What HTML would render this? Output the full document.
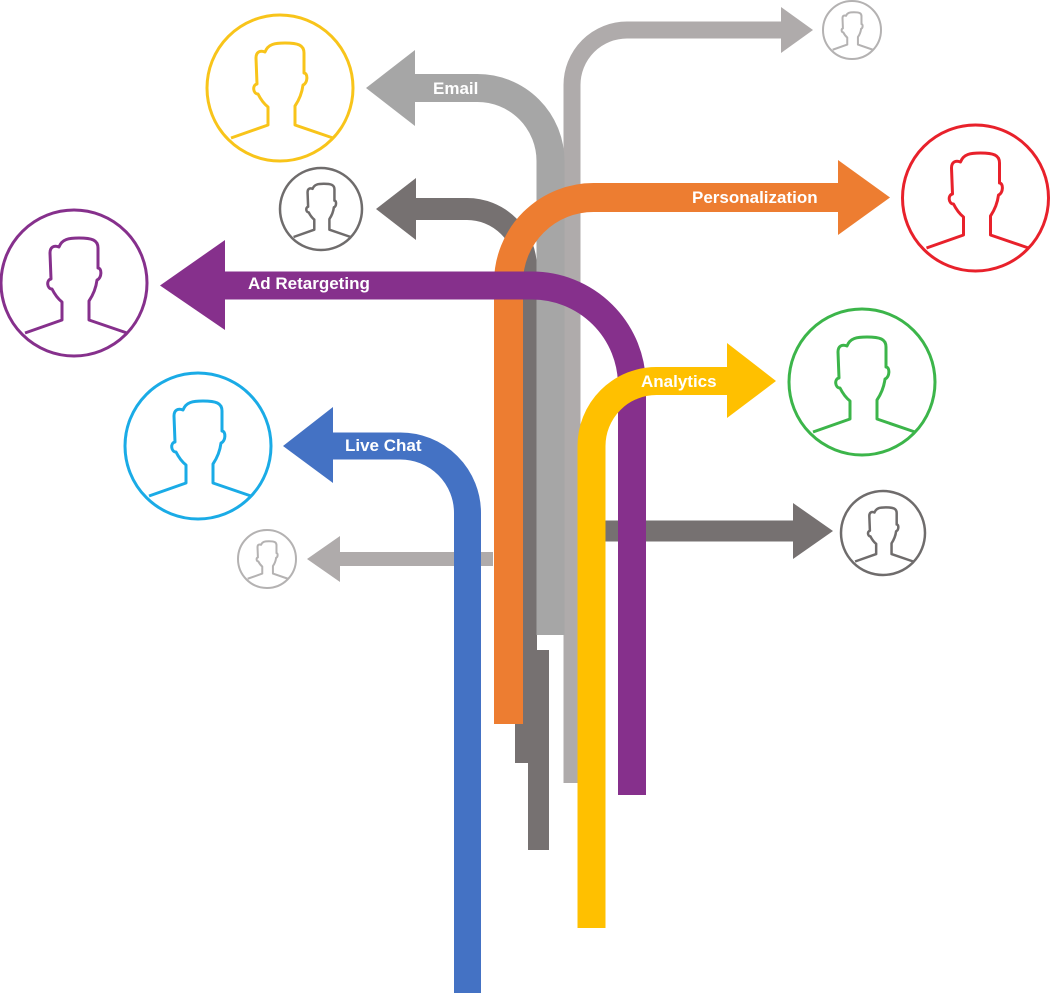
<!DOCTYPE html>
<html><head><meta charset="utf-8"><style>
html,body{margin:0;padding:0;background:#fff;}
svg{display:block;}
text{font-family:"Liberation Sans",Arial,sans-serif;font-weight:bold;fill:#fff;font-size:17px;}
</style></head><body>
<svg width="1052" height="993" viewBox="0 0 1052 993" xmlns="http://www.w3.org/2000/svg">
<defs>
<path id="p" d="M-49,50 L-12,37 L-12,19 C-17,15 -20,10 -22,6 C-27,6 -28,-3 -23,-4 L-24,-30 C-24,-36 -20,-38 -15,-36 C-12,-44 -5,-45 5,-45 C18,-45 24,-43 24,-35 L24,-15 C28,-15 28,-5 23,-3 C22,5 19,12 15,18 L15,37 L53,50" fill="none" vector-effect="non-scaling-stroke" stroke-linejoin="round"/>
</defs>
<g fill="none" stroke-linecap="butt">
<path d="M493,559 L338,559" stroke="#afabab" stroke-width="14"/>
<rect x="515" y="650" width="34" height="113" fill="#767171" stroke="none"/>
<rect x="528" y="650" width="21" height="200" fill="#767171" stroke="none"/>
<path d="M572,783 L572,85 A55,55 0 0 1 627,30 L785,30" stroke="#afabab" stroke-width="17"/>
<path d="M526,763 L526,268 A59,59 0 0 0 467,209 L414,209" stroke="#767171" stroke-width="22"/>
<path d="M550.5,635 L550.5,161 A73,73 0 0 0 477.5,88 L413,88" stroke="#a6a6a6" stroke-width="28"/>
<path d="M600,531 L795,531" stroke="#767171" stroke-width="21"/>
<path d="M508.5,724 L508.5,282 A85,85 0 0 1 593.5,197.5 L840,197.5" stroke="#ed7d31" stroke-width="29"/>
<path d="M632,795 L632,385 A100,100 0 0 0 532,285.5 L223,285.5" stroke="#86308c" stroke-width="28"/>
<path d="M591.5,928 L591.5,446 A65,65 0 0 1 656.5,381 L729,381" stroke="#ffc000" stroke-width="28"/>
<path d="M467.5,993 L467.5,513 A67,67 0 0 0 400.5,446 L331,446" stroke="#4472c4" stroke-width="27"/>
</g>
<g stroke="none">
<polygon points="340,536 307,559 340,582" fill="#afabab"/>
<polygon points="781,7 813,30 781,53" fill="#afabab"/>
<polygon points="416,178 376,209 416,240" fill="#767171"/>
<polygon points="415,50 366,88 415,126" fill="#a6a6a6"/>
<polygon points="793,503 833,531 793,559" fill="#767171"/>
<polygon points="838,160 890,197.5 838,235" fill="#ed7d31"/>
<polygon points="225,240 160,285.5 225,330" fill="#86308c"/>
<polygon points="727,343 776,381 727,418" fill="#ffc000"/>
<polygon points="333,407 283,446 333,483" fill="#4472c4"/>
</g>
<text x="433" y="94">Email</text>
<text x="692" y="203">Personalization</text>
<text x="248" y="289">Ad Retargeting</text>
<text x="641" y="387">Analytics</text>
<text x="345" y="451">Live Chat</text>
<g fill="none">
<circle cx="280" cy="88" r="73" stroke="#f8c41a" stroke-width="3"/>
<use href="#p" transform="translate(280,88)" stroke="#f8c41a" stroke-width="3"/>
<circle cx="852" cy="30" r="29" stroke="#b4b2b2" stroke-width="2"/>
<use href="#p" transform="translate(852,30) scale(0.395)" stroke="#b4b2b2" stroke-width="2"/>
<circle cx="975.5" cy="198" r="73" stroke="#e8212b" stroke-width="3"/>
<use href="#p" transform="translate(975.5,198)" stroke="#e8212b" stroke-width="3"/>
<circle cx="321" cy="209" r="41" stroke="#6f6c6c" stroke-width="2.5"/>
<use href="#p" transform="translate(321,209) scale(0.56)" stroke="#6f6c6c" stroke-width="2.5"/>
<circle cx="74" cy="283" r="73" stroke="#86308c" stroke-width="3"/>
<use href="#p" transform="translate(74,283)" stroke="#86308c" stroke-width="3"/>
<circle cx="862" cy="382" r="73" stroke="#3cb54a" stroke-width="3"/>
<use href="#p" transform="translate(862,382)" stroke="#3cb54a" stroke-width="3"/>
<circle cx="198" cy="446" r="73" stroke="#1aabe6" stroke-width="3"/>
<use href="#p" transform="translate(198,446)" stroke="#1aabe6" stroke-width="3"/>
<circle cx="883" cy="533" r="42" stroke="#6f6c6c" stroke-width="2.5"/>
<use href="#p" transform="translate(883,533) scale(0.57)" stroke="#6f6c6c" stroke-width="2.5"/>
<circle cx="267" cy="559" r="29" stroke="#b4b2b2" stroke-width="2"/>
<use href="#p" transform="translate(267,559) scale(0.395)" stroke="#b4b2b2" stroke-width="2"/>
</g>
</svg>
</body></html>
